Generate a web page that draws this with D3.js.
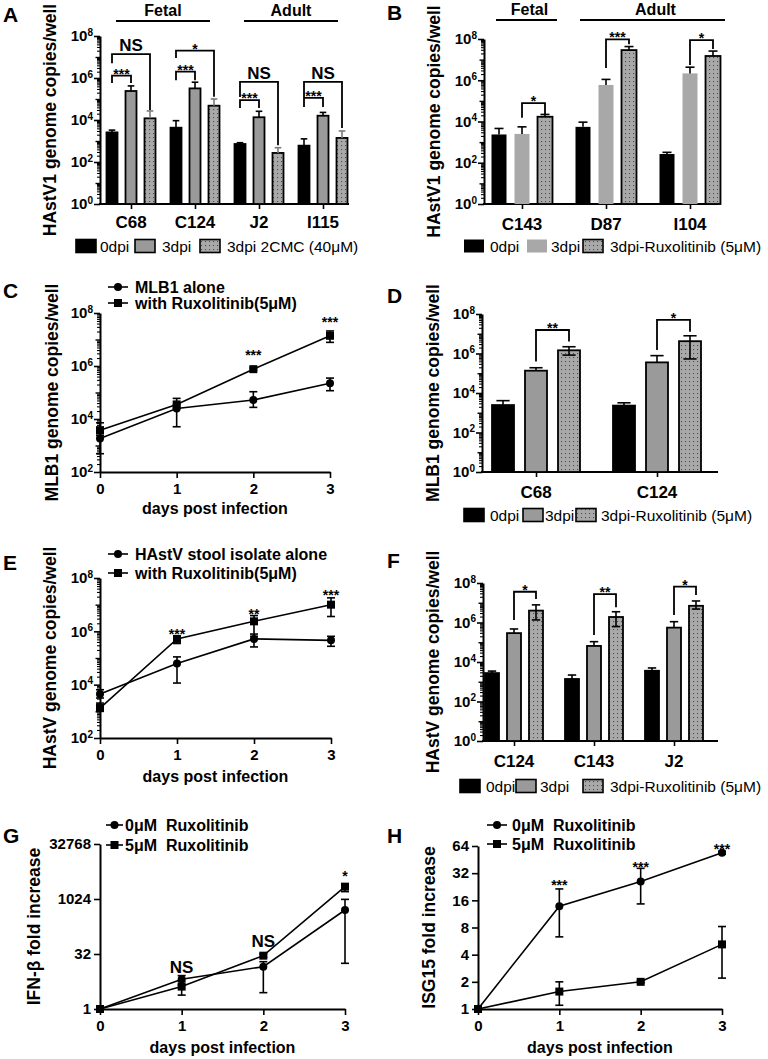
<!DOCTYPE html>
<html><head><meta charset="utf-8">
<script src="https://cdn.jsdelivr.net/npm/d3@7"></script>
<style>
body{margin:0;background:#fff}
svg{display:block;font-family:"Liberation Sans",Arial,Helvetica,sans-serif}
</style></head><body>
<svg id="fig" width="768" height="1059"></svg>
<script>
// ================= DATA =================
// ---- Panel A ----
const aGroups = ["C68", "C124", "J2", "I115"];
const aSeries = ["0dpi", "3dpi", "3dpi 2CMC (40μM)"];
const a0dpi   = [2570, 4300, 720, 600];
const a0dpiHi = [3300, 9300, 830, 1260];
const a3dpi   = [2.4e5, 3.2e5, 1.35e4, 1.6e4];
const a3dpiHi = [4.2e5, 6.3e5, 2.6e4, 2.3e4];
const a2cmc   = [1.2e4, 4.8e4, 270, 1400];
const a2cmcHi = [2.7e4, 1e5, 480, 3000];
// [group, from series, to series, label, bracket level, left leg end, right leg end]
const aBrackets = [
  ["C68", 0, 2, "NS", 1.38e7, 5.1e6, 3.0e4],
  ["C68", 0, 1, "***", 1.29e6, 5.75e5, 5.75e5],
  ["C124", 0, 2, "*", 2.0e7, 8.9e6, 1.29e5],
  ["C124", 0, 1, "***", 2.0e6, 7.9e5, 7.9e5],
  ["J2", 0, 2, "NS", 6.6e5, 1.26e5, 630],
  ["J2", 0, 1, "***", 8.9e4, 3.7e4, 3.7e4],
  ["I115", 0, 2, "NS", 6.6e5, 1.26e5, 4200],
  ["I115", 0, 1, "***", 1.12e5, 4.2e4, 4.2e4]
];
const aHeaders = [["Fetal", "C68", "C124"], ["Adult", "J2", "I115"]];

// ---- Panel B ----
const bGroups = ["C143", "D87", "I104"];
const bSeries = ["0dpi", "3dpi", "3dpi-Ruxolitinib (5μM)"];
const b0dpi   = [2350, 5500, 265];
const b0dpiHi = [4600, 9300, 320];
const b3dpi   = [2500, 5.9e5, 2.15e6];
const b3dpiHi = [5500, 1.1e6, 4.3e6];
const bRux    = [1.7e4, 2.9e7, 1.5e7];
const bRuxHi  = [2.2e4, 4.3e7, 2.6e7];
const bBrackets = [
  ["C143", 1, 2, "*", 7.8e4, 1.5e4, 2.3e4],
  ["D87", 1, 2, "***", 9.5e7, 3.9e6, 5.6e7],
  ["I104", 1, 2, "*", 8.9e7, 5.5e6, 3.3e7]
];
const bHeaders = [["Fetal", "C143", "C143"], ["Adult", "D87", "I104"]];

// ---- Panel C ----
const days = [0, 1, 2, 3];
const cAlone   = [1820, 2.5e4, 5.2e4, 2.24e5];
const cAloneLo = [490, 5100, 2.75e4, 1.17e5];
const cAloneHi = [3150, 3.5e4, 1.07e5, 3.5e5];
const cRux     = [3800, 3.55e4, 7.6e5, 1.38e7];
const cRuxLo   = [2450, 2.5e4, 6.8e5, 7.8e6];
const cRuxHi   = [7200, 6.0e4, 8.4e5, 2.1e7];
const cNames   = ["MLB1 alone", "with Ruxolitinib(5μM)"];
const cMarks   = [[2, "***", 3.1e6], [3, "***", 5.5e7]];

// ---- Panel D ----
const dGroups = ["C68", "C124"];
const dSeries = ["0dpi", "3dpi", "3dpi-Ruxolitinib (5μM)"];
const d0dpi   = [2450, 2300];
const d0dpiHi = [4100, 3200];
const d3dpi   = [1.35e5, 3.55e5];
const d3dpiHi = [1.9e5, 7.8e5];
const dRux    = [1.45e6, 4.2e6];
const dRuxHi  = [2.2e6, 7.9e6];
const dRuxLo  = [8.3e5, 5.3e5];
const dBrackets = [
  ["C68", 1, 2, "**", 1.55e7, 3.9e5, 4.0e6],
  ["C124", 1, 2, "*", 5.0e7, 1.5e6, 1.26e7]
];

// ---- Panel E ----
const eAlone   = [4470, 6.2e4, 5.2e5, 4.6e5];
const eAloneLo = [3160, 1.15e4, 2.6e5, 2.75e5];
const eAloneHi = [6460, 1.1e5, 7.9e5, 6.5e5];
const eRux     = [1330, 5.2e5, 2.37e6, 1.0e7];
const eRuxLo   = [1000, 3.5e5, 6.5e5, 3.6e6];
const eRuxHi   = [2040, 6.5e5, 3.9e6, 1.8e7];
const eNames   = ["HAstV stool isolate alone", "with Ruxolitinib(5μM)"];
const eMarks   = [[1, "***", 1.02e6], [2, "**", 5.4e6], [3, "***", 2.75e7]];

// ---- Panel F ----
const fGroups = ["C124", "C143", "J2"];
const fSeries = ["0dpi", "3dpi", "3dpi-Ruxolitinib (5μM)"];
const f0dpi   = [2750, 1380, 3600];
const f0dpiHi = [3470, 2190, 5000];
const f3dpi   = [2.9e5, 6.5e4, 5.5e5];
const f3dpiHi = [4.7e5, 1.07e5, 1.1e6];
const fRux    = [4.0e6, 1.9e6, 7.0e6];
const fRuxHi  = [7.8e6, 3.5e6, 1.23e7];
const fRuxLo  = [1.35e6, 6.2e5, 4.8e6];
const fBrackets = [
  ["C124", 1, 2, "*", 3.6e7, 1.35e6, 1.55e7],
  ["C143", 1, 2, "**", 2.75e7, 2.3e5, 6.0e6],
  ["J2", 1, 2, "*", 6.5e7, 2.4e6, 2.45e7]
];

// ---- Panel G ----
const gRux0   = [1, 6.5, 14.4, 512];
const gRux0Lo = [1, 4.5, 2.8, 17.8];
const gRux0Hi = [1, 8.2, 19.7, 1000];
const gRux5   = [1, 4.1, 28.8, 2230];
const gRux5Lo = [1, 2.4, 26, 1630];
const gRux5Hi = [1, 5.6, 32, 2630];
const gTicks  = [1, 32, 1024, 32768];
const gNames  = ["0μM  Ruxolitinib", "5μM  Ruxolitinib"];
const gMarks  = [[1, "NS", 14], [2, "NS", 72], [3, "*", 5260]];

// ---- Panel H ----
const hRux0   = [1, 13.8, 25.8, 54];
const hRux0Lo = [1, 6.3, 14.6, 52];
const hRux0Hi = [1, 21.4, 36.2, 56];
const hRux5   = [1, 1.56, 2.0, 5.2];
const hRux5Lo = [1, 1.1, 1.95, 2.2];
const hRux5Hi = [1, 2.0, 2.05, 8.2];
const hTicks  = [1, 2, 4, 8, 16, 32, 64];
const hNames  = ["0μM  Ruxolitinib", "5μM  Ruxolitinib"];
const hMarks  = [[1, "***", 24.9], [2, "***", 40.4], [3, "***", 63]];

// ================= DRAWING =================
const FONT = '"Liberation Sans", Arial, Helvetica, sans-serif';
const svg = d3.select("#fig");
const defs = svg.append("defs");
const pat = defs.append("pattern").attr("id", "dots").attr("width", 4).attr("height", 4)
  .attr("patternUnits", "userSpaceOnUse");
pat.append("rect").attr("width", 4).attr("height", 4).attr("fill", "#a9a9a9");
pat.append("rect").attr("x", 1).attr("y", 1).attr("width", 1.1).attr("height", 1.1).attr("fill", "#4d4d4d");

const ST_BLACK = {fill: "#000", stroke: "#000"};
const ST_GRAY = {fill: "#9a9a9a", stroke: "#000"};
const ST_LGRAY = {fill: "#a8a8a8", stroke: null};
const ST_BLACK_NS = {fill: "#000", stroke: null};
const ST_DOTS = {fill: "url(#dots)", stroke: "#000"};

function styleAxis(g) {
  g.attr("font-family", FONT).attr("font-size", 15).attr("font-weight", "bold");
  g.select(".domain").attr("stroke", "#000").attr("stroke-width", 2);
  g.selectAll(".tick line").attr("stroke", "#000").attr("stroke-width", 1.6);
  g.selectAll(".tick text").attr("fill", "#000");
}
function yTitle(text, cx, cy) {
  svg.append("text").attr("transform", `translate(${cx},${cy}) rotate(-90)`)
    .attr("text-anchor", "middle").attr("dy", "0.36em")
    .attr("font-weight", "bold").attr("font-size", 17.5).text(text);
}
function letter(t, x, y) {
  svg.append("text").attr("x", x).attr("y", y).attr("font-weight", "bold").attr("font-size", 21).text(t);
}
function minorLogTicks(y, ax, from, to) {
  const minors = [], odd = [];
  for (let e = from; e < to; e++) {
    for (let k = 2; k <= 9; k++) minors.push(k * Math.pow(10, e));
    if (e % 2 === 1) odd.push(Math.pow(10, e));
  }
  svg.append("g").attr("transform", `translate(${ax},0)`)
    .call(d3.axisLeft(y).tickValues(minors).tickSize(3).tickFormat(() => ""))
    .call(g => { g.select(".domain").remove(); g.selectAll("line").attr("stroke", "#000").attr("stroke-width", 1.1); });
  svg.append("g").attr("transform", `translate(${ax},0)`)
    .call(d3.axisLeft(y).tickValues(odd).tickSize(4.5).tickFormat(() => ""))
    .call(g => { g.select(".domain").remove(); g.selectAll("line").attr("stroke", "#000").attr("stroke-width", 1.4); });
}
function supLabels(g) {
  g.selectAll(".tick text").each(function (d) {
    const t = d3.select(this);
    t.text(null);
    t.append("tspan").text("10");
    t.append("tspan").attr("dy", "-0.55em").attr("font-size", 10).text(Math.round(Math.log10(d)));
  });
}
function errBar(cx, y1, y2, cap, color) {
  svg.append("line").attr("x1", cx).attr("x2", cx).attr("y1", y1).attr("y2", y2)
    .attr("stroke", color).attr("stroke-width", 1.6);
  svg.append("line").attr("x1", cx - cap / 2).attr("x2", cx + cap / 2).attr("y1", y2).attr("y2", y2)
    .attr("stroke", color).attr("stroke-width", 1.6);
}

function barPanel(c) {
  const y = d3.scaleLog().domain([1, 1e8]).range([c.yb, c.yt]);
  const x = d3.scalePoint().domain(c.groups).range(c.xr);
  const xi = d3.scalePoint().domain(d3.range(c.series.length)).range([-c.off, c.off]);
  minorLogTicks(y, c.ax, 0, 8);
  const ya = svg.append("g").attr("transform", `translate(${c.ax},0)`)
    .call(d3.axisLeft(y).tickValues([1, 1e2, 1e4, 1e6, 1e8]).tickSize(6).tickSizeOuter(0)
      .tickPadding(1).tickFormat(() => ""));
  styleAxis(ya);
  supLabels(ya);
  // x axis
  const xa = svg.append("g").attr("transform", `translate(0,${c.yb})`)
    .call(d3.axisBottom(x).tickSize(5).tickSizeOuter(0).tickFormat(() => ""));
  styleAxis(xa);
  xa.select(".domain").remove();
  svg.append("line").attr("x1", c.ax - 1).attr("x2", c.xEnd).attr("y1", c.yb).attr("y2", c.yb)
    .attr("stroke", "#000").attr("stroke-width", 2);
  svg.append("g").selectAll("text").data(c.groups).join("text")
    .attr("x", d => x(d)).attr("y", c.catY).attr("text-anchor", "middle")
    .attr("font-weight", "bold").attr("font-size", 17).text(d => d);
  // bars
  c.values.forEach((vals, s) => {
    const st = c.styles[s];
    svg.append("g").selectAll("rect").data(vals).join("rect")
      .attr("x", (v, i) => x(c.groups[i]) + xi(s) - c.bw / 2)
      .attr("y", v => y(v)).attr("width", c.bw).attr("height", v => c.yb - y(v))
      .attr("fill", st.fill).attr("stroke", st.stroke || "none").attr("stroke-width", st.stroke ? 1.8 : 0);
  });
  // error bars
  const cap = c.bw * 0.6;
  c.values.forEach((vals, s) => {
    vals.forEach((v, i) => {
      const cx = x(c.groups[i]) + xi(s);
      const col = (c.errColors && c.errColors[s]) || "#000";
      if (c.hi[s]) errBar(cx, y(v), y(c.hi[s][i]), cap, col);
      if (c.lo && c.lo[s]) errBar(cx, y(v), y(c.lo[s][i]), cap, col);
    });
  });
  // brackets
  c.brackets.forEach(b => {
    const x1 = x(b[0]) + xi(b[1]), x2 = x(b[0]) + xi(b[2]);
    svg.append("path").attr("d", `M${x1},${y(b[5])}V${y(b[4])}H${x2}V${y(b[6])}`)
      .attr("fill", "none").attr("stroke", "#000").attr("stroke-width", 1.8);
    const isNS = b[3] === "NS";
    svg.append("text").attr("x", (x1 + x2) / 2).attr("y", y(b[4]) + (isNS ? -3 : 3))
      .attr("text-anchor", "middle").attr("font-weight", "bold")
      .attr("font-size", isNS ? 17 : 14).text(b[3]);
  });
  // headers
  if (c.headers) c.headers.forEach(h => {
    const x1 = x(h[1]) + c.hExt[0], x2 = x(h[2]) + c.hExt[1];
    svg.append("line").attr("x1", x1).attr("x2", x2).attr("y1", c.hLineY).attr("y2", c.hLineY)
      .attr("stroke", "#000").attr("stroke-width", 2);
    svg.append("text").attr("x", (x1 + x2) / 2 + (c.hShift || 0)).attr("y", c.hTextY).attr("text-anchor", "middle")
      .attr("font-weight", "bold").attr("font-size", 16).text(h[0]);
  });
  // legend
  c.series.forEach((s, i) => {
    const L = c.legend[i];
    const st = c.styles[i];
    svg.append("rect").attr("x", L[0]).attr("y", c.legendY - 12.5).attr("width", 20).attr("height", 13)
      .attr("fill", st.fill).attr("stroke", st.stroke || "none").attr("stroke-width", st.stroke ? 1.6 : 0);
    svg.append("text").attr("x", L[1]).attr("y", c.legendY).attr("font-size", 15.5).text(s);
  });
  yTitle(c.title, c.titleX, (c.yb + c.yt) / 2);
  letter(c.letter[0], c.letter[1], c.letter[2]);
}

function linePanel(c) {
  const x = d3.scaleLinear().domain([0, 3]).range([c.ax, c.x1]);
  const y = (c.base2 ? d3.scaleLog().base(2) : d3.scaleLog()).domain(c.yd).range([c.yb, c.yt]);
  if (!c.base2) minorLogTicks(y, c.ax, Math.round(Math.log10(c.yd[0])), Math.round(Math.log10(c.yd[1])));
  const ya = svg.append("g").attr("transform", `translate(${c.ax},0)`)
    .call(d3.axisLeft(y).tickValues(c.ticks).tickSize(6).tickSizeOuter(0).tickPadding(c.base2 ? 3 : 1)
      .tickFormat(c.base2 ? d3.format("d") : () => ""));
  styleAxis(ya);
  if (!c.base2) supLabels(ya);
  const xa = svg.append("g").attr("transform", `translate(0,${c.yb})`)
    .call(d3.axisBottom(x).tickValues(days).tickSize(6).tickSizeOuter(0).tickPadding(5).tickFormat(d3.format("d")));
  styleAxis(xa);
  // series
  const line = d3.line().x((d, i) => x(days[i])).y(d => y(d));
  c.series.forEach(s => {
    svg.append("path").attr("d", line(s.v)).attr("fill", "none").attr("stroke", "#000").attr("stroke-width", 1.6);
  });
  c.series.forEach(s => {
    s.v.forEach((v, i) => {
      const cx = x(days[i]);
      if (s.hi[i] > v) errBar(cx, y(v), y(s.hi[i]), 8, "#000");
      if (s.lo[i] < v) errBar(cx, y(v), y(s.lo[i]), 8, "#000");
    });
  });
  c.series.forEach(s => {
    s.v.forEach((v, i) => drawMarker(s.m, x(days[i]), y(v)));
  });
  // legend
  c.series.forEach((s, i) => {
    const ly = c.legendRows[i];
    svg.append("line").attr("x1", c.lx).attr("x2", c.lx + c.lLen).attr("y1", ly).attr("y2", ly)
      .attr("stroke", "#000").attr("stroke-width", 1.6);
    drawMarker(s.m, c.lx + c.lLen / 2, ly);
    svg.append("text").attr("x", c.tx).attr("y", ly + 6).attr("font-weight", "bold").attr("font-size", 16)
      .style("white-space", "pre").text(c.names[i]);
  });
  // significance marks
  c.marks.forEach(m => {
    const isNS = m[1] === "NS";
    svg.append("text").attr("x", x(m[0])).attr("y", y(m[2]) + (isNS ? 6 : 7.5))
      .attr("text-anchor", "middle").attr("font-weight", "bold").attr("font-size", isNS ? 17 : 14).text(m[1]);
  });
  yTitle(c.title, c.titleX, (c.yb + c.yt) / 2);
  svg.append("text").attr("x", (c.ax + c.x1) / 2).attr("y", c.xTitleY).attr("text-anchor", "middle")
    .attr("font-weight", "bold").attr("font-size", 16).text("days post infection");
  letter(c.letter[0], c.letter[1], c.letter[2]);
}
function drawMarker(m, cx, cy) {
  if (m === "circle") svg.append("circle").attr("cx", cx).attr("cy", cy).attr("r", 4).attr("fill", "#000");
  else svg.append("rect").attr("x", cx - 4).attr("y", cy - 4).attr("width", 8).attr("height", 8).attr("fill", "#000");
}

// ---- Panels ----
barPanel({
  groups: aGroups, series: aSeries, values: [a0dpi, a3dpi, a2cmc], hi: [a0dpiHi, a3dpiHi, a2cmcHi],
  styles: [ST_BLACK, ST_GRAY, ST_DOTS], errColors: ["#000", "#000", "#7a7a7a"],
  ax: 100, xEnd: 349, yt: 36, yb: 204, xr: [131, 323], off: 19, bw: 11, catY: 228,
  brackets: aBrackets, headers: aHeaders, hExt: [-15, 15], hLineY: 21, hTextY: 16,
  legendY: 252, legend: [[76, 100], [135, 162], [200, 227]],
  title: "HAstV1 genome copies/well", titleX: 50, letter: ["A", 3, 22]
});
barPanel({
  groups: bGroups, series: bSeries, values: [b0dpi, b3dpi, bRux], hi: [b0dpiHi, b3dpiHi, bRuxHi],
  styles: [ST_BLACK_NS, ST_LGRAY, ST_DOTS],
  ax: 484, xEnd: 718, yt: 39, yb: 204, xr: [522, 690], off: 23, bw: 15, catY: 230,
  brackets: bBrackets, headers: bHeaders, hExt: [-26, 35], hLineY: 20, hTextY: 15, hShift: 3,
  legendY: 252, legend: [[464, 490], [527, 551], [583, 610]],
  title: "HAstV1 genome copies/well", titleX: 434, letter: ["B", 387, 20]
});
linePanel({
  ax: 100, x1: 330, yt: 313, yb: 472, yd: [1e2, 1e8], ticks: [1e2, 1e4, 1e6, 1e8],
  series: [{v: cAlone, lo: cAloneLo, hi: cAloneHi, m: "circle"}, {v: cRux, lo: cRuxLo, hi: cRuxHi, m: "square"}],
  names: cNames, legendRows: [287, 303], lx: 108, lLen: 20, tx: 135, marks: cMarks,
  title: "MLB1 genome copies/well", titleX: 52, xTitleY: 514, letter: ["C", 3, 298]
});
barPanel({
  groups: dGroups, series: dSeries, values: [d0dpi, d3dpi, dRux], hi: [d0dpiHi, d3dpiHi, dRuxHi],
  lo: [null, null, dRuxLo], styles: [ST_BLACK, ST_GRAY, ST_DOTS],
  ax: 482, xEnd: 718, yt: 314, yb: 472, xr: [536, 657], off: 33, bw: 22, catY: 498,
  brackets: dBrackets, legendY: 521, legend: [[464, 490], [523, 545], [576, 601]],
  title: "MLB1 genome copies/well", titleX: 433, letter: ["D", 387, 303]
});
linePanel({
  ax: 100, x1: 331, yt: 578, yb: 738, yd: [1e2, 1e8], ticks: [1e2, 1e4, 1e6, 1e8],
  series: [{v: eAlone, lo: eAloneLo, hi: eAloneHi, m: "circle"}, {v: eRux, lo: eRuxLo, hi: eRuxHi, m: "square"}],
  names: eNames, legendRows: [554, 573], lx: 108, lLen: 20, tx: 135, marks: eMarks,
  title: "HAstV genome copies/well", titleX: 50, xTitleY: 782, letter: ["E", 3, 570]
});
barPanel({
  groups: fGroups, series: fSeries, values: [f0dpi, f3dpi, fRux], hi: [f0dpiHi, f3dpiHi, fRuxHi],
  lo: [null, null, fRuxLo], styles: [ST_BLACK, ST_GRAY, ST_DOTS],
  ax: 483, xEnd: 718, yt: 583, yb: 741, xr: [514, 674], off: 22, bw: 14, catY: 767,
  brackets: fBrackets, legendY: 792, legend: [[460, 486], [516, 540], [583, 610]],
  title: "HAstV genome copies/well", titleX: 433, letter: ["F", 387, 568]
});
linePanel({
  base2: true, ax: 100, x1: 345, yt: 844, yb: 1009, yd: [1, 32768], ticks: gTicks,
  series: [{v: gRux0, lo: gRux0Lo, hi: gRux0Hi, m: "circle"}, {v: gRux5, lo: gRux5Lo, hi: gRux5Hi, m: "square"}],
  names: gNames, legendRows: [825, 845], lx: 106, lLen: 17, tx: 125, marks: gMarks,
  title: "IFN-β fold increase", titleX: 34, xTitleY: 1053, letter: ["G", 3, 843]
});
linePanel({
  base2: true, ax: 478, x1: 722, yt: 846, yb: 1009, yd: [1, 64], ticks: hTicks,
  series: [{v: hRux0, lo: hRux0Lo, hi: hRux0Hi, m: "circle"}, {v: hRux5, lo: hRux5Lo, hi: hRux5Hi, m: "square"}],
  names: hNames, legendRows: [825, 844], lx: 487, lLen: 20, tx: 512, marks: hMarks,
  title: "ISG15 fold increase", titleX: 429, xTitleY: 1053, letter: ["H", 387, 843]
});
</script>
</body></html>
